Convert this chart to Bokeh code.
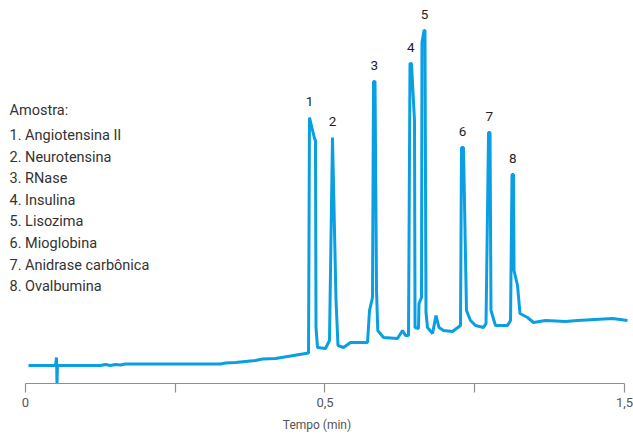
from bokeh.plotting import figure
from bokeh.models import Range1d, FixedTicker, Label
from bokeh.embed import file_html
from bokeh.resources import INLINE
from bokeh.core.properties import value

# ---- data -------------------------------------------------------------
time_min = [0.0050, 0.0501, 0.0518, 0.0526, 0.0534, 0.1252, 0.1336, 0.1419, 0.1503, 0.1586,
            0.1669, 0.3255, 0.3339, 0.3506, 0.3589, 0.3840, 0.3957, 0.4174, 0.4424, 0.4674,
            0.4725,
            0.4741, 0.4825, 0.4841, 0.4850, 0.4875, 0.5008, 0.5058, 0.5075,
            0.5125, 0.5184, 0.5217, 0.5309, 0.5426, 0.5710, 0.5743, 0.5793,
            0.5810, 0.5835, 0.5860, 0.5881, 0.5977, 0.6210, 0.6294, 0.6344, 0.6394,
            0.6419, 0.6444, 0.6494, 0.6503, 0.6561, 0.6569, 0.6611,
            0.6619, 0.6653, 0.6669, 0.6686, 0.6711, 0.6795, 0.6853, 0.6903, 0.6978, 0.7129, 0.7262,
            0.7279, 0.7312, 0.7362, 0.7429, 0.7513, 0.7646, 0.7688,
            0.7730, 0.7755, 0.7771, 0.7846, 0.8047, 0.8097,
            0.8122, 0.8147, 0.8155, 0.8214, 0.8255, 0.8381, 0.8481, 0.8681, 0.9015, 0.9215,
            0.9800, 1.0050]
signal = [4.80, 4.80, 6.93, 0.00, 4.80, 4.80, 5.07, 4.80, 5.07, 4.93,
          5.20, 5.20, 5.47, 5.60, 5.73, 6.13, 6.53, 6.67, 7.33, 8.00,
          8.13,
          70.93, 65.33, 64.80, 14.93, 9.60, 9.33, 10.93, 11.47,
          65.60, 22.13, 10.13, 9.60, 10.93, 10.93, 19.47, 22.93,
          80.53, 80.53, 24.80, 14.13, 12.27, 12.00, 14.13, 12.80, 12.80,
          85.33, 85.33, 70.13, 14.93, 14.67, 21.33, 22.93,
          90.93, 94.13, 94.13, 18.93, 14.93, 13.33, 18.13, 14.93, 14.13, 13.87, 15.47,
          62.93, 62.93, 19.47, 16.80, 15.47, 14.93, 16.00,
          66.93, 66.93, 19.47, 15.47, 15.47, 16.80,
          55.73, 55.73, 30.13, 26.13, 18.67, 17.60, 16.27, 16.80, 16.53, 16.80,
          17.33, 16.80]

peak_ids = ["1", "2", "3", "4", "5", "6", "7", "8"]
peak_time = [0.4741, 0.5125, 0.5822, 0.6431, 0.6661, 0.7295, 0.7742, 0.8134]
peak_signal = [70.93, 65.60, 80.53, 85.33, 94.13, 62.93, 66.93, 55.73]

sample_title = "Amostra:"
sample_names = ["1. Angiotensina II", "2. Neurotensina", "3. RNase", "4. Insulina",
                "5. Lisozima", "6. Mioglobina", "7. Anidrase carbônica", "8. Ovalbumina"]

tick_values = [0, 0.25, 0.5, 0.75, 1]
tick_labels = ["0", "", "0,5", "", "1,5"]
x_label = "Tempo (min)"

# ---- styling ----------------------------------------------------------
FONT = "Roboto"
LINE = "#0a9fe3"

p = figure(width=633, height=434, output_backend="svg", toolbar_location=None,
           x_range=Range1d(-0.0417, 1.0150), y_range=Range1d(0, 102.13),
           y_axis_location=None,
           min_border_left=0, min_border_right=0, min_border_top=0, min_border_bottom=51)
p.outline_line_color = None
p.xgrid.visible = False
p.ygrid.visible = False
p.background_fill_color = "white"
p.border_fill_color = "white"

p.line(time_min, signal, line_color=LINE, line_width=3, line_join="bevel")

p.text(x=peak_time, y=peak_signal, text=peak_ids, text_align="center",
       text_baseline="middle", y_offset=-16, text_font=value(FONT),
       text_font_size="13.5px", text_color="#1e1e1e")

ax = p.xaxis[0]
ax.bounds = (0, 1)
ax.ticker = FixedTicker(ticks=tick_values, minor_ticks=[])
ax.major_label_overrides = dict(zip(tick_values, tick_labels))
ax.axis_line_color = "#8f8f8f"
ax.axis_line_width = 1.2
ax.major_tick_line_color = "#8f8f8f"
ax.major_tick_line_width = 1.2
ax.major_tick_out = 9
ax.major_tick_in = 0
ax.minor_tick_line_color = None
ax.major_label_text_font = FONT
ax.major_label_text_font_size = "13px"
ax.major_label_text_color = "#555555"
ax.major_label_standoff = 5
ax.axis_label = x_label
ax.axis_label_text_font = FONT
ax.axis_label_text_font_size = "12px"
ax.axis_label_text_font_style = "normal"
ax.axis_label_text_color = "#555555"
ax.axis_label_standoff = 8

# legend block (screen units relative to the frame)
p.add_layout(Label(x=9, y=383 - 110, x_units="screen", y_units="screen",
                   text=sample_title, text_font=FONT, text_font_size="14.5px",
                   text_color="#333333", text_baseline="middle"))
for i, name in enumerate(sample_names):
    p.add_layout(Label(x=9, y=383 - (135 + 21.6 * i), x_units="screen", y_units="screen",
                       text=name, text_font=FONT, text_font_size="14.5px",
                       text_color="#333333", text_baseline="middle"))

open("out.html", "w").write(file_html(p, INLINE))
